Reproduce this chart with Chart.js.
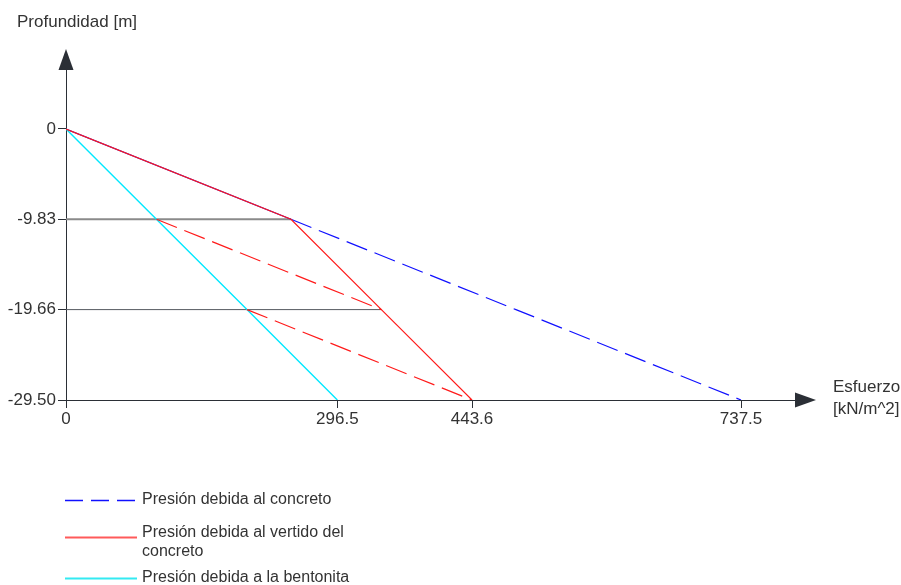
<!DOCTYPE html>
<html><head><meta charset="utf-8">
<script src="https://cdn.jsdelivr.net/npm/chart.js@4"></script>
<style>html,body{margin:0;padding:0;background:#fff}canvas{display:block}</style>
</head><body>
<canvas id="c" width="901" height="585"></canvas>
<script>
const depths = [0, -9.83, -19.66, -29.5];
const depthLabels = ['0', '-9.83', '-19.66', '-29.50'];
const stressTicks = [0, 296.5, 443.6, 737.5];
const stressLabels = ['0', '296.5', '443.6', '737.5'];
const concreto = [0, 245.8, 491.6, 737.5];
const vertido = [0, 245.8, 344.6, 443.6];
const bentonita = [0, 98.8, 197.7, 296.5];
const legendLabels = [['Presión debida al concreto'], ['Presión debida al vertido del', 'concreto'], ['Presión debida a la bentonita']];
const xTitle = ['Esfuerzo', '[kN/m^2]'];
const yTitle = 'Profundidad [m]';

const FONT = "'Liberation Sans', Arial, sans-serif";
const AXIS = '#2b2f36';
const TXT = '#333333';

const series = xs => depths.map((d, i) => ({x: xs[i], y: d}));
const seg = (x0, y0, x1, y1) => [{x: x0, y: y0}, {x: x1, y: y1}];

const base = {showLine: true, pointRadius: 0, pointHoverRadius: 0, borderWidth: 1.2, fill: false, tension: 0};

const datasets = [
  Object.assign({}, base, {label: 'vertido', data: series(vertido), borderColor: '#ff1a1a'}),
  Object.assign({}, base, {label: 'rd1', data: seg(bentonita[1], depths[1], vertido[2], depths[2]), borderColor: '#ff1a1a', borderDash: [22, 8]}),
  Object.assign({}, base, {label: 'rd2', data: seg(bentonita[2], depths[2], vertido[3], depths[3]), borderColor: '#ff1a1a', borderDash: [22, 8]}),
  Object.assign({}, base, {label: 'bentonita', data: series(bentonita), borderColor: '#00e8ff', borderWidth: 1.4}),
  Object.assign({}, base, {label: 'concreto', data: series(concreto), borderColor: '#1010ff', segment: {borderDash: ctx => ctx.p0DataIndex >= 1 ? [22, 8] : []}}),
  Object.assign({}, base, {label: 'h1', data: seg(0, depths[1], vertido[1], depths[1]), borderColor: '#8a8a8a', borderWidth: 2}),
  Object.assign({}, base, {label: 'h2', data: seg(0, depths[2], vertido[2], depths[2]), borderColor: '#555a60', borderWidth: 1})
];

const decor = {
  id: 'decor',
  afterDraw(chart) {
    const ctx = chart.ctx;
    const a = chart.chartArea;
    ctx.save();
    ctx.fillStyle = AXIS;
    ctx.beginPath();
    ctx.moveTo(a.left, a.top - 21);
    ctx.lineTo(a.left - 7.5, a.top);
    ctx.lineTo(a.left + 7.5, a.top);
    ctx.closePath();
    ctx.fill();
    ctx.beginPath();
    ctx.moveTo(a.right + 21, a.bottom);
    ctx.lineTo(a.right, a.bottom - 7.5);
    ctx.lineTo(a.right, a.bottom + 7.5);
    ctx.closePath();
    ctx.fill();
    ctx.fillStyle = TXT;
    ctx.font = '17px ' + FONT;
    ctx.textBaseline = 'middle';
    ctx.textAlign = 'left';
    ctx.fillText(yTitle, 17, 22);
    ctx.fillText(xTitle[0], 833, 387);
    ctx.fillText(xTitle[1], 833, 409);
    const lx0 = 65, lx1 = 137, tx = 142;
    const rows = [
      {y: 500, color: '#1010ff', dash: [18, 8], w: 1.3},
      {y: 537, color: '#ff5a5a', dash: [], w: 1.8},
      {y: 578, color: '#33eaf2', dash: [], w: 1.8}
    ];
    ctx.font = '16px ' + FONT;
    rows.forEach((r, i) => {
      ctx.beginPath();
      ctx.setLineDash(r.dash);
      ctx.strokeStyle = r.color;
      ctx.lineWidth = r.w;
      ctx.moveTo(lx0, r.y + 0.5);
      ctx.lineTo(lx1, r.y + 0.5);
      ctx.stroke();
      ctx.setLineDash([]);
      const lines = legendLabels[i];
      if (lines.length === 1) {
        ctx.fillText(lines[0], tx, r.y);
      } else {
        ctx.fillText(lines[0], tx, r.y - 4);
        ctx.fillText(lines[1], tx, r.y + 15);
      }
    });
    ctx.restore();
  }
};

new Chart(document.getElementById('c'), {
  type: 'scatter',
  data: {datasets},
  options: {
    responsive: false,
    devicePixelRatio: 1,
    animation: false,
    events: [],
    layout: {padding: {left: 0, top: 70, right: 106, bottom: 145}},
    plugins: {legend: {display: false}, tooltip: {enabled: false}, title: {display: false}},
    scales: {
      x: {
        type: 'linear', min: 0, max: 796.5,
        afterBuildTicks: s => { s.ticks = stressTicks.map(v => ({value: v})); },
        afterFit: s => { s.height = 40; },
        ticks: {autoSkip: false, maxRotation: 0, color: TXT, padding: 1, font: {size: 17, family: FONT},
          callback: v => stressLabels[stressTicks.indexOf(v)]},
        grid: {drawOnChartArea: false, drawTicks: true, tickLength: 8, tickColor: AXIS, tickWidth: 1},
        border: {display: true, color: AXIS, width: 1}
      },
      y: {
        type: 'linear', min: -29.5, max: 6.42,
        afterBuildTicks: s => { s.ticks = depths.slice().sort((p, q) => p - q).map(v => ({value: v})); },
        afterFit: s => { s.width = 66; },
        ticks: {autoSkip: false, color: TXT, padding: 2, font: {size: 17, family: FONT},
          callback: v => depthLabels[depths.indexOf(v)]},
        grid: {drawOnChartArea: false, drawTicks: true, tickLength: 8, tickColor: AXIS, tickWidth: 1},
        border: {display: true, color: AXIS, width: 1}
      }
    }
  },
  plugins: [decor]
});
</script>
</body></html>
